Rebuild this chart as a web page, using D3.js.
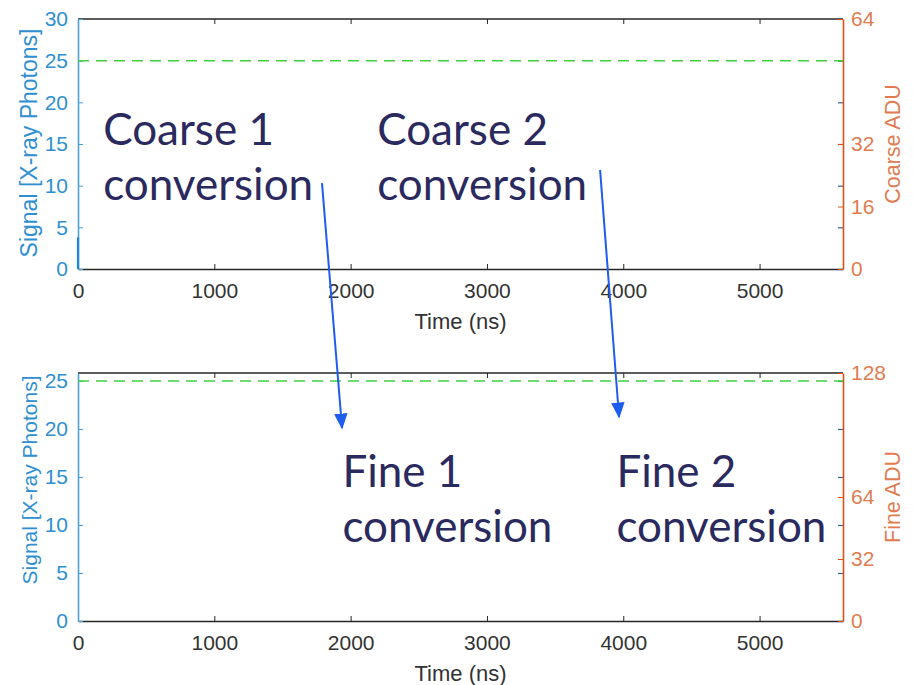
<!DOCTYPE html>
<html>
<head>
<meta charset="utf-8">
<script src="https://cdn.jsdelivr.net/npm/d3@7"></script>
<style>
  html, body { margin: 0; padding: 0; background: #ffffff; }
  svg { display: block; }
</style>
</head>
<body>
<svg id="chart" width="913" height="685"></svg>
<script>
// ---- data ----
const timeDomain = [0, 5612];
const timeTicks = [0, 1000, 2000, 3000, 4000, 5000];

const coarseSignalDomain = [0, 30];
const coarseSignalTicks = [0, 5, 10, 15, 20, 25, 30];
const coarseAduDomain = [0, 64];
const coarseAduTicks = [0, 16, 32, 64];

const fineSignalDomain = [0, 25.83];
const fineSignalTicks = [0, 5, 10, 15, 20, 25];
const fineAduDomain = [0, 128];
const fineAduTicks = [0, 32, 64, 128];

// full-scale signal level (dashed reference)
const fullScaleSignal = 25;

// signal trace (time ns, photons)
const signalTime = [0, 0];
const signalValue = [0, 3.8];

// conversion annotations: [label line 1, line 2, time, signal] in panel data units
const coarseNotes = [
  ["Coarse 1", "conversion", 185, 14.9],
  ["Coarse 2", "conversion", 2195, 14.9]
];
const fineNotes = [
  ["Fine 1", "conversion", 1940, 13.95],
  ["Fine 2", "conversion", 3950, 13.95]
];
// arrows: start (time, coarse signal) -> end (time, fine signal)
const arrowStart = [[1790, 10.3], [3830, 11.9]];
const arrowEnd = [[1937, 20.1], [3969, 21.25]];

// ---- styling ----
const leftColor = "#2f8fd0";
const leftLine = "#4ba2da";
const rightColor = "#e07c50";
const rightLine = "#d95319";
const mirrorTick = "#3b5f88";
const frameColor = "#262626";
const tickText = "#333333";
const noteColor = "#2b2a5e";
const arrowColor = "#1f5cf0";
const dashColor = "#3fd13f";
const fontMain = "'Liberation Sans', Arial, Helvetica, sans-serif";
const fontNote = "Lato, 'Open Sans', sans-serif";
const fmt = d3.format("d");

const svg = d3.select("#chart");
const defs = svg.append("defs");
defs.append("marker")
  .attr("id", "arrowhead")
  .attr("viewBox", "0 0 10 10")
  .attr("refX", 9).attr("refY", 5)
  .attr("markerWidth", 8).attr("markerHeight", 8)
  .attr("markerUnits", "strokeWidth")
  .attr("orient", "auto")
  .append("path")
  .attr("d", "M0,0.8 L10,5 L0,9.2 Z")
  .attr("fill", arrowColor);

const plotLeft = 78, plotRight = 843;

function panel(cfg) {
  const x = d3.scaleLinear().domain(timeDomain).range([plotLeft, plotRight]);
  const yL = d3.scaleLinear().domain(cfg.leftDomain).range([cfg.bottom, cfg.top]);
  const yR = d3.scaleLinear().domain(cfg.rightDomain).range([cfg.bottom, cfg.top]);
  const g = svg.append("g");

  // top frame line
  g.append("line")
    .attr("x1", plotLeft).attr("x2", plotRight)
    .attr("y1", cfg.top).attr("y2", cfg.top)
    .attr("stroke", frameColor).attr("stroke-width", 1.3);

  // mirrored x ticks on top frame
  g.append("g")
    .attr("transform", `translate(0,${cfg.top})`)
    .call(d3.axisBottom(x).tickValues(timeTicks).tickSize(5).tickFormat(""))
    .call(a => a.select(".domain").remove())
    .call(a => a.selectAll("line").attr("stroke", frameColor));

  // mirrored left-axis ticks on the right side
  g.append("g")
    .attr("transform", `translate(${plotRight},0)`)
    .call(d3.axisLeft(yL).tickValues(cfg.leftTicks).tickSize(5).tickFormat(""))
    .call(a => a.select(".domain").remove())
    .call(a => a.selectAll("line").attr("stroke", mirrorTick).attr("stroke-width", 1.2));

  // bottom axis
  const xa = g.append("g")
    .attr("transform", `translate(0,${cfg.bottom})`)
    .call(d3.axisBottom(x).tickValues(timeTicks).tickFormat(fmt)
      .tickSizeInner(-5).tickSizeOuter(0).tickPadding(14));
  xa.select(".domain").attr("stroke", frameColor).attr("stroke-width", 1.3);
  xa.selectAll("line").attr("stroke", frameColor);
  xa.selectAll("text").attr("fill", tickText).style("font", `21px ${fontMain}`);

  // left axis
  const la = g.append("g")
    .attr("transform", `translate(${plotLeft},0)`)
    .call(d3.axisLeft(yL).tickValues(cfg.leftTicks).tickFormat(fmt)
      .tickSizeInner(-5).tickSizeOuter(0).tickPadding(10));
  la.select(".domain").attr("stroke", leftLine).attr("stroke-width", 1.6);
  la.selectAll("line").attr("stroke", leftLine);
  la.selectAll("text").attr("fill", leftColor).style("font", `21px ${fontMain}`);

  // right axis
  const ra = g.append("g")
    .attr("transform", `translate(${plotRight},0)`)
    .call(d3.axisRight(yR).tickValues(cfg.rightTicks).tickFormat(fmt)
      .tickSizeInner(-5).tickSizeOuter(0).tickPadding(8));
  ra.select(".domain").attr("stroke", rightLine).attr("stroke-width", 1.6);
  ra.selectAll("line").attr("stroke", rightLine);
  ra.selectAll("text").attr("fill", rightColor).style("font", `21px ${fontMain}`);

  // axis titles
  g.append("text")
    .attr("x", (plotLeft + plotRight) / 2).attr("y", cfg.bottom + 60)
    .attr("text-anchor", "middle").attr("fill", tickText)
    .style("font", `22px ${fontMain}`)
    .text("Time (ns)");
  g.append("text")
    .attr("transform", `translate(37,${cfg.leftTitleY}) rotate(-90)`)
    .attr("text-anchor", "middle").attr("fill", leftColor)
    .style("font", `${cfg.leftTitleSize}px ${fontMain}`)
    .text("Signal [X-ray Photons]");
  g.append("text")
    .attr("transform", `translate(900,${(cfg.top + cfg.bottom) / 2}) rotate(-90)`)
    .attr("text-anchor", "middle").attr("fill", rightColor)
    .style("font", `21.5px ${fontMain}`)
    .text(cfg.rightLabel);

  // full-scale dashed level
  g.append("line")
    .attr("x1", x(timeDomain[0])).attr("x2", x(timeDomain[1]))
    .attr("y1", yL(fullScaleSignal)).attr("y2", yL(fullScaleSignal))
    .attr("stroke", dashColor).attr("stroke-width", 1.5)
    .attr("stroke-dasharray", "11,7");

  // signal trace
  if (cfg.trace) {
    const pts = signalTime.map((t, i) => [t, signalValue[i]]);
    g.append("path")
      .attr("d", d3.line().x(d => x(d[0])).y(d => yL(d[1]))(pts))
      .attr("fill", "none").attr("stroke", "#1f86d6").attr("stroke-width", 2.2);
  }

  // annotations
  cfg.notes.forEach(n => {
    const t = g.append("text")
      .attr("x", x(n[2])).attr("y", yL(n[3]))
      .attr("fill", noteColor)
      .style("font", `44px ${fontNote}`);
    t.append("tspan").attr("x", x(n[2])).text(n[0]);
    t.append("tspan").attr("x", x(n[2])).attr("dy", 55).text(n[1]);
  });

  return { x, yL, yR };
}

const coarsePanel = panel({
  top: 19, bottom: 269,
  leftDomain: coarseSignalDomain, leftTicks: coarseSignalTicks,
  rightDomain: coarseAduDomain, rightTicks: coarseAduTicks,
  leftTitleY: 143, leftTitleSize: 23,
  rightLabel: "Coarse ADU", notes: coarseNotes, trace: true
});
const finePanel = panel({
  top: 373, bottom: 621,
  leftDomain: fineSignalDomain, leftTicks: fineSignalTicks,
  rightDomain: fineAduDomain, rightTicks: fineAduTicks,
  leftTitleY: 480, leftTitleSize: 21,
  rightLabel: "Fine ADU", notes: fineNotes, trace: false
});

// arrows linking coarse conversions to fine conversions
arrowStart.forEach((s, i) => {
  const e = arrowEnd[i];
  svg.append("line")
    .attr("x1", coarsePanel.x(s[0])).attr("y1", coarsePanel.yL(s[1]))
    .attr("x2", finePanel.x(e[0])).attr("y2", finePanel.yL(e[1]))
    .attr("stroke", arrowColor).attr("stroke-width", 2)
    .attr("marker-end", "url(#arrowhead)");
});
</script>
</body>
</html>
